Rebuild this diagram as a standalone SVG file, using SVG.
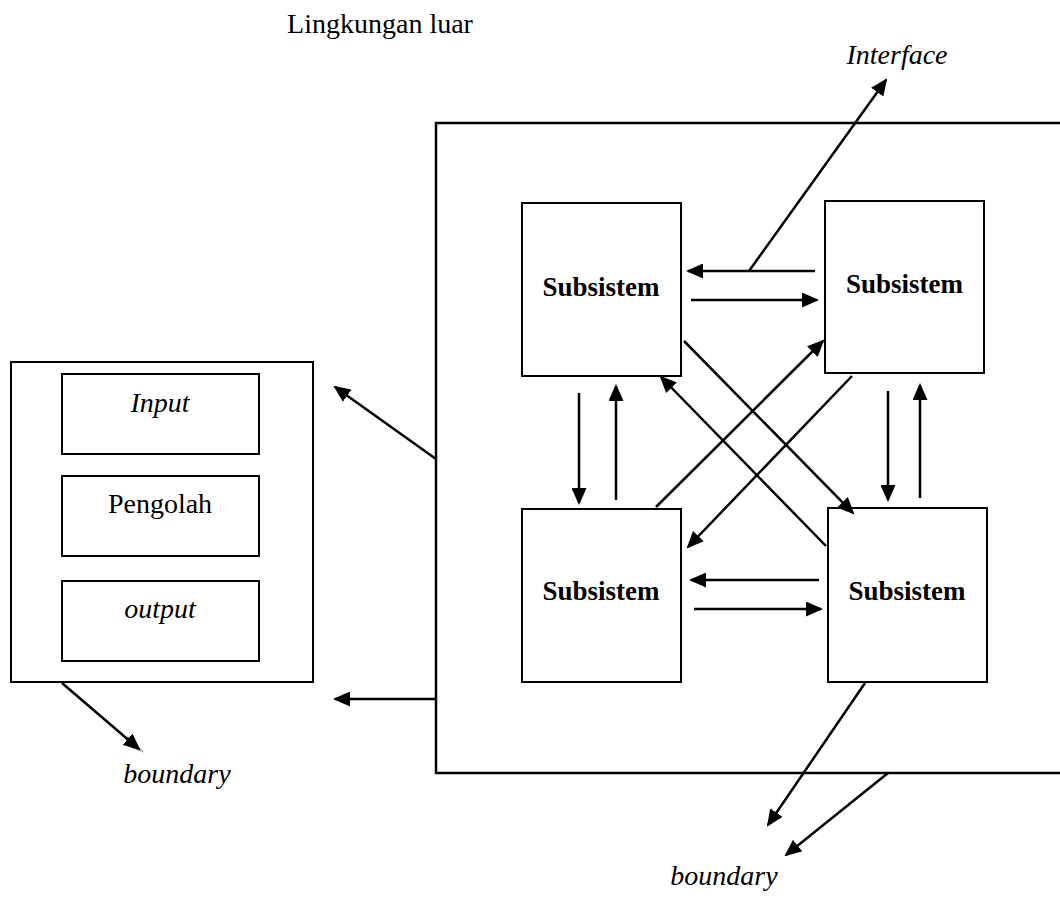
<svg xmlns="http://www.w3.org/2000/svg" width="1060" height="902" viewBox="0 0 1060 902">
<defs>
<marker id="ah" markerUnits="userSpaceOnUse" markerWidth="17" markerHeight="15" refX="15" refY="7.5" orient="auto">
<path d="M0,0 L17,7.5 L0,15 z" fill="#000"/>
</marker>
<style>
.box{fill:#fff;stroke:#000;stroke-width:2}
.ln{stroke:#000;stroke-width:2.5;fill:none}
.ar{stroke:#000;stroke-width:2.5;fill:none;marker-end:url(#ah)}
.t{font-family:"Liberation Serif","Times New Roman",serif;font-size:28px;fill:#000}
.i{font-style:italic}
.b{font-weight:bold;font-size:27px}
</style>
</defs>
<rect width="1060" height="902" fill="#fff"/>
<text class="t" x="380" y="33" text-anchor="middle">Lingkungan luar</text>
<text class="t i" x="897" y="64" text-anchor="middle">Interface</text>
<g id="system-boundary">
<rect class="box" x="436" y="123" width="640" height="650" style="stroke-width:2.5"/>
</g>
<g id="left-system">
<rect class="box" x="11" y="362" width="302" height="320"/>
</g>
<g id="input">
<rect class="box" x="62" y="374" width="197" height="80"/>
<text class="t i" x="160" y="412" text-anchor="middle">Input</text>
</g>
<g id="pengolah">
<rect class="box" x="62" y="476" width="197" height="80"/>
<text class="t" x="160" y="513" text-anchor="middle">Pengolah</text>
</g>
<g id="output">
<rect class="box" x="62" y="581" width="197" height="80"/>
<text class="t i" x="160" y="618" text-anchor="middle">output</text>
</g>
<g id="sub-tl">
<rect class="box" x="522" y="203" width="159" height="173"/>
<text class="t b" x="601" y="296" text-anchor="middle">Subsistem</text>
</g>
<g id="sub-tr">
<rect class="box" x="825" y="201" width="159" height="172"/>
<text class="t b" x="904.5" y="293" text-anchor="middle">Subsistem</text>
</g>
<g id="sub-bl">
<rect class="box" x="522" y="509" width="159" height="173"/>
<text class="t b" x="601" y="600" text-anchor="middle">Subsistem</text>
</g>
<g id="sub-br">
<rect class="box" x="828" y="508" width="159" height="174"/>
<text class="t b" x="907" y="600" text-anchor="middle">Subsistem</text>
</g>
<g id="connectors">
<line class="ar" x1="815" y1="271" x2="688" y2="271"/>
<line class="ar" x1="749" y1="271" x2="886" y2="80"/>
<line class="ar" x1="691" y1="300" x2="817" y2="300"/>
<line class="ar" x1="819" y1="580" x2="691" y2="580"/>
<line class="ar" x1="694" y1="609" x2="821" y2="609"/>
<line class="ar" x1="579" y1="393" x2="579" y2="503"/>
<line class="ar" x1="616" y1="500" x2="616" y2="386"/>
<line class="ar" x1="888" y1="391" x2="888" y2="500"/>
<line class="ar" x1="920" y1="498" x2="920" y2="385"/>
<line class="ar" x1="684" y1="341" x2="853" y2="513"/>
<line class="ar" x1="826" y1="546" x2="661" y2="377"/>
<line class="ar" x1="656" y1="507" x2="823" y2="341"/>
<line class="ar" x1="852" y1="376" x2="688" y2="547"/>
<line class="ar" x1="436" y1="459" x2="335" y2="387"/>
<line class="ar" x1="436" y1="699" x2="335" y2="699"/>
<line class="ar" x1="865" y1="683" x2="768" y2="825"/>
<line class="ar" x1="888" y1="773" x2="786" y2="855"/>
<path d="M127,735 L145,753 L131,748 z" fill="#aaa"/>
<line class="ar" x1="62" y1="683" x2="139" y2="749"/>
</g>
<text class="t i" x="177" y="783" text-anchor="middle">boundary</text>
<text class="t i" x="724" y="885" text-anchor="middle">boundary</text>
</svg>
